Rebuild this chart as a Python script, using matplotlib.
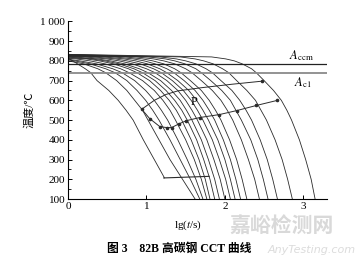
import numpy as np
import matplotlib
matplotlib.use("Agg")
import matplotlib.pyplot as plt
from matplotlib.ticker import MultipleLocator

plt.rcParams['font.family'] = ['Liberation Serif', 'Noto Sans CJK SC']
plt.rcParams['mathtext.fontset'] = 'stix'

nan = np.nan
# temperature levels (deg C) at which each cooling curve is read
temps = [820, 810, 800, 785, 760, 740, 700, 650, 600, 550, 500, 400, 300, 200, 100]
# start temperature of each curve at lg t = 0
start_T = [815, 800, 805, 808, 813, 816, 819, 821, 823, 825, 826, 827, 828, 829, 830, 831, 832, 833]
# lg(t/s) where each curve passes the levels above (nan = not on the curve)
curve_lgt = [
    [nan, nan, 0.06, 0.12, 0.22, 0.29, 0.37, 0.52, 0.64, 0.74, 0.83, 0.96, 1.10, nan, nan],
    [nan, nan, nan, 0.20, 0.38, 0.48, 0.62, 0.75, 0.85, 0.95, 1.02, 1.16, 1.30, 1.46, 1.62],
    [nan, nan, 0.08, 0.28, 0.48, 0.60, 0.75, 0.88, 0.99, 1.08, 1.16, 1.30, 1.43, 1.56, 1.68],
    [nan, nan, 0.15, 0.36, 0.57, 0.69, 0.85, 0.99, 1.10, 1.19, 1.27, 1.40, 1.52, 1.63, 1.72],
    [nan, 0.10, 0.28, 0.47, 0.67, 0.78, 0.95, 1.10, 1.21, 1.30, 1.37, 1.50, 1.61, 1.70, 1.77],
    [nan, 0.23, 0.40, 0.58, 0.77, 0.88, 1.04, 1.18, 1.29, 1.38, 1.45, 1.57, 1.67, 1.75, 1.81],
    [nan, 0.30, 0.47, 0.65, 0.84, 0.95, 1.11, 1.25, 1.36, 1.45, 1.52, 1.64, 1.73, 1.81, 1.87],
    [0.07, 0.37, 0.54, 0.72, 0.91, 1.02, 1.18, 1.32, 1.43, 1.51, 1.58, 1.70, 1.79, 1.87, 1.93],
    [0.21, 0.49, 0.65, 0.82, 1.00, 1.11, 1.26, 1.40, 1.50, 1.58, 1.65, 1.77, 1.86, 1.94, 2.00],
    [0.33, 0.60, 0.75, 0.92, 1.09, 1.19, 1.33, 1.47, 1.57, 1.65, 1.72, 1.84, 1.93, 2.01, 2.07],
    [0.46, 0.71, 0.86, 1.01, 1.17, 1.26, 1.40, 1.54, 1.64, 1.72, 1.79, 1.91, 2.00, 2.07, 2.13],
    [0.59, 0.83, 0.97, 1.11, 1.26, 1.35, 1.48, 1.62, 1.72, 1.80, 1.87, 1.98, 2.07, 2.14, 2.20],
    [0.73, 0.95, 1.08, 1.22, 1.36, 1.44, 1.56, 1.70, 1.80, 1.88, 1.95, 2.06, 2.15, 2.22, 2.28],
    [0.87, 1.09, 1.22, 1.36, 1.50, 1.58, 1.70, 1.84, 1.95, 2.03, 2.10, 2.21, 2.30, 2.38, 2.44],
    [1.02, 1.24, 1.36, 1.49, 1.63, 1.70, 1.82, 1.96, 2.07, 2.14, 2.21, 2.33, 2.42, 2.49, 2.55],
    [1.17, 1.38, 1.50, 1.63, 1.76, 1.84, 1.95, 2.09, 2.19, 2.27, 2.34, 2.45, 2.54, 2.61, 2.67],
    [1.43, 1.62, 1.73, 1.85, 1.97, 2.05, 2.15, 2.28, 2.39, 2.46, 2.53, 2.64, 2.73, 2.80, 2.86],
    [1.83, 2.01, 2.12, 2.22, 2.34, 2.40, 2.50, 2.62, 2.72, 2.79, 2.85, 2.95, 3.03, 3.10, 3.15],
]
# end of the fastest curve on the Ms line
c1_end = (1.23, 207)

# transformation lines
ps_lgt = [0.94, 1.10, 1.25, 1.40, 1.70, 2.10, 2.47]
ps_T = [555, 600, 630, 648, 664, 682, 697]
pf_lgt = [0.94, 1.04, 1.17, 1.26, 1.32, 1.42, 1.51, 1.68, 1.93, 2.15, 2.40, 2.67]
pf_T = [555, 508, 467, 462, 462, 482, 497, 513, 528, 548, 574, 600]
ms_lgt = [1.22, 1.80]
ms_T = [207, 215]
Acm = 785
Ac1 = 739

fig = plt.figure(figsize=(3.58, 2.64), dpi=100)
ax = fig.add_axes([0.19, 0.246, 0.723, 0.673])

lc = '#2b2b2b'
for i, row in enumerate(curve_lgt):
    xs = [0.0]
    ys = [start_T[i]]
    for x, t in zip(row, temps):
        if not np.isnan(x) and t < start_T[i]:
            xs.append(x)
            ys.append(t)
    if i == 0:
        xs.append(c1_end[0])
        ys.append(c1_end[1])
    ax.plot(xs, ys, color=lc, lw=0.6)

ax.plot([0, 3.3], [Acm, Acm], color='#222222', lw=0.9)
ax.plot([0, 3.3], [Ac1, Ac1], color='#8a8a8a', lw=1.3)
ax.plot(ps_lgt, ps_T, color=lc, lw=0.7)
ax.plot(ps_lgt[-1:], ps_T[-1:], 'o', color=lc, ms=1.6)
ax.plot(pf_lgt, pf_T, color=lc, lw=0.7, marker='o', ms=1.6)
ax.plot(ms_lgt, ms_T, color=lc, lw=0.8)

ax.text(2.97, 790, r'$A_{\rm ccm}$', fontsize=9, ha='center', va='bottom')
ax.text(3.0, 728, r'$A_{\rm c1}$', fontsize=9, ha='center', va='top')
ax.text(1.61, 591, 'P', fontsize=9, ha='center', va='center')

ax.set_xlim(0, 3.3)
ax.set_ylim(100, 1000)
ax.xaxis.set_major_locator(MultipleLocator(1))
ax.yaxis.set_major_locator(MultipleLocator(100))
ax.yaxis.set_minor_locator(MultipleLocator(50))
ax.set_yticklabels(['1 000' if v == 1000 else '%d' % v for v in ax.get_yticks()])
ax.tick_params(direction='in', labelsize=8, length=3, width=0.7, pad=2)
ax.tick_params(which='minor', direction='in', length=1.8, width=0.6)
for s in ['top', 'right']:
    ax.spines[s].set_visible(False)
for s in ['left', 'bottom']:
    ax.spines[s].set_linewidth(0.8)

ax.set_xlabel(r'lg($t$/s)', fontsize=8)
ax.xaxis.set_label_coords(0.463, -0.11)
ax.set_ylabel('温度/℃', fontsize=8, labelpad=4)

fig.text(0.5, 0.058, '图 3　82B 高碳钢 CCT 曲线', ha='center', va='center',
         fontsize=8.5, fontweight='bold')
fig.text(0.785, 0.145, '嘉峪检测网', ha='center', va='center', fontsize=15,
         color='#d9d9d9', family=['Noto Sans CJK SC'], fontweight='bold')
fig.text(0.87, 0.052, 'AnyTesting.com', ha='center', va='center', fontsize=8,
         color='#dcdcdc', style='italic', family=['DejaVu Sans'])

fig.savefig('out.png', dpi=100)
